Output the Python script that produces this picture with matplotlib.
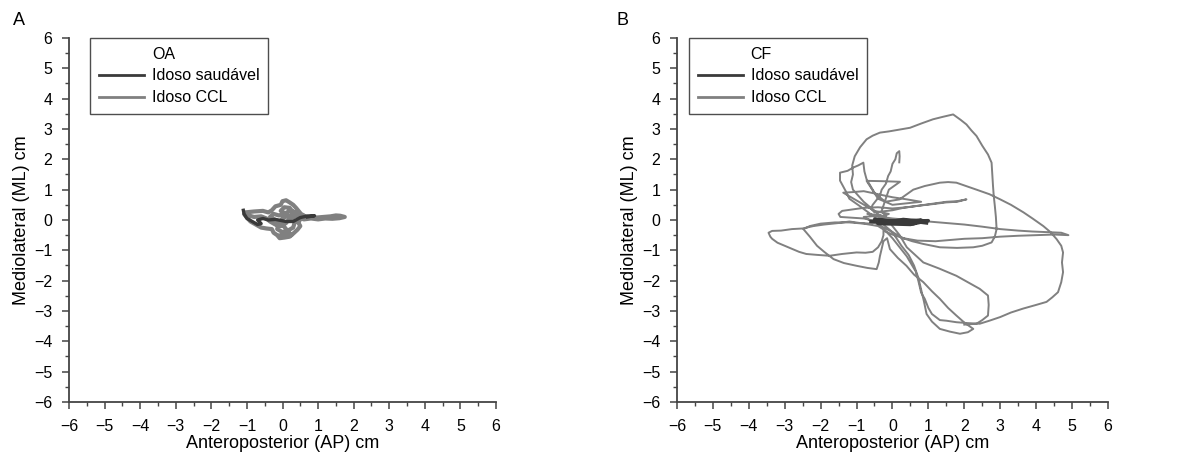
import matplotlib
matplotlib.use('Agg')
import matplotlib.pyplot as plt
from matplotlib.ticker import MultipleLocator
from matplotlib.lines import Line2D

plt.rcParams['font.family'] = ['Liberation Sans', 'DejaVu Sans']

# ------------------------------------------------------------
# data (cm): (AP, ML) pairs
# ------------------------------------------------------------
# Panel A - olhos abertos (OA)
ccl_a = [(-1.05, 0.25), (-0.8, 0.28), (-0.55, 0.3), (-0.4, 0.25), (-0.3, 0.32), (-0.2, 0.45),
         (-0.05, 0.5), (0.0, 0.62), (0.1, 0.65), (0.2, 0.58), (0.3, 0.5), (0.38, 0.4),
         (0.45, 0.3), (0.52, 0.2), (0.6, 0.15), (0.5, 0.05), (0.45, -0.1), (0.5, -0.2),
         (0.42, -0.32), (0.3, -0.45), (0.2, -0.55), (0.05, -0.58), (-0.08, -0.6), (-0.15, -0.5),
         (-0.25, -0.42), (-0.3, -0.3), (-0.45, -0.28), (-0.6, -0.25), (-0.75, -0.15),
         (-0.9, -0.05), (-1.0, 0.08), (-1.08, 0.2), (-0.95, 0.15), (-0.8, 0.1), (-0.6, 0.12),
         (-0.45, 0.05), (-0.35, -0.05), (-0.2, -0.15), (-0.05, -0.2), (0.1, -0.1), (0.2, 0.05),
         (0.1, 0.2), (-0.05, 0.3), (0.05, 0.42), (0.2, 0.4), (0.3, 0.25), (0.25, 0.1),
         (0.35, -0.05), (0.3, -0.25), (0.15, -0.35), (0.0, -0.4), (-0.15, -0.3), (-0.1, -0.1),
         (0.0, 0.05), (0.15, 0.15), (0.35, 0.12), (0.55, 0.12), (0.75, 0.12), (0.95, 0.08),
         (1.15, 0.1), (1.35, 0.12), (1.5, 0.15), (1.62, 0.14), (1.75, 0.1), (1.6, 0.06),
         (1.4, 0.04), (1.2, 0.05), (1.0, 0.02), (0.8, 0.05), (0.6, 0.02), (0.45, 0.08),
         (0.4, 0.25), (0.2, 0.3), (0.05, 0.2), (-0.1, 0.15), (-0.25, 0.2), (-0.35, 0.1),
         (-0.2, 0.0), (0.0, -0.15), (0.1, -0.3), (0.25, -0.5), (0.1, -0.45), (-0.05, -0.5)]
healthy_a = [(-1.1, 0.32), (-1.08, 0.2), (-1.0, 0.05), (-0.85, -0.05), (-0.7, -0.15),
             (-0.6, -0.12), (-0.7, 0.0), (-0.55, 0.05), (-0.4, 0.0), (-0.2, 0.02), (0.1, -0.05),
             (0.3, -0.05), (0.5, 0.08), (0.65, 0.12), (0.9, 0.14), (0.7, 0.1)]

# Panel B - CF
ccl_b = [
    # spike and central line
    (0.19, 1.9), (0.2, 2.1), (0.19, 2.27), (0.12, 2.2), (0.08, 2.0), (0.0, 1.85), (-0.05, 1.6),
    (-0.12, 1.45), (-0.18, 1.2), (-0.3, 1.0), (-0.35, 0.8), (-0.45, 0.65), (-0.55, 0.5),
    (-0.6, 0.38), (-0.5, 0.25), (-0.3, 0.28), (0.0, 0.32), (0.3, 0.4), (0.6, 0.45), (0.9, 0.5),
    (1.2, 0.55), (1.5, 0.6), (1.8, 0.62), (2.06, 0.68), (1.8, 0.6), (1.5, 0.58), (1.1, 0.52),
    (0.8, 0.48), (0.4, 0.42), (0.0, 0.38), (-0.4, 0.42), (-0.8, 0.4), (-1.1, 0.35), (-1.4, 0.3),
    (-1.5, 0.2), (-1.45, 0.1), (-1.2, 0.08), (-0.8, 0.05), (-0.6, 0.0), (-0.4, -0.05),
    # left loop
    (-0.6, -0.12), (-0.9, -0.1), (-1.2, -0.05), (-1.5, -0.1), (-1.9, -0.15), (-2.2, -0.2),
    (-2.5, -0.28), (-2.8, -0.3), (-3.1, -0.35), (-3.35, -0.36), (-3.45, -0.42), (-3.4, -0.55),
    (-3.35, -0.62), (-3.2, -0.75), (-3.0, -0.85), (-2.8, -0.95), (-2.6, -1.05), (-2.4, -1.12),
    (-2.1, -1.15), (-1.75, -1.18), (-1.4, -1.12), (-1.0, -1.07), (-0.75, -1.08), (-0.55, -1.05),
    (-0.4, -0.9), (-0.3, -0.7), (-0.25, -0.5), (-0.25, -0.35),
    # long line to the right
    (0.0, -0.48), (0.3, -0.6), (0.7, -0.68), (1.2, -0.7), (1.6, -0.66), (2.0, -0.62),
    (2.5, -0.6), (3.0, -0.55), (3.5, -0.52), (4.0, -0.5), (4.5, -0.48), (4.9, -0.5),
    (4.7, -0.42), (4.3, -0.4), (3.9, -0.38), (3.5, -0.35), (3.0, -0.3), (2.5, -0.22),
    (2.0, -0.15), (1.5, -0.1), (1.0, -0.05), (0.5, 0.0), (0.0, 0.05), (-0.3, 0.1),
    # top loop
    (-0.55, 0.35), (-0.8, 0.6), (-0.95, 0.8), (-1.1, 1.0), (-1.15, 1.25), (-1.1, 1.5),
    (-1.12, 1.8), (-1.05, 2.1), (-0.9, 2.4), (-0.72, 2.66), (-0.55, 2.78), (-0.35, 2.88),
    (-0.1, 2.92), (0.2, 2.98), (0.49, 3.04), (0.8, 3.18), (1.13, 3.32), (1.4, 3.4),
    (1.69, 3.48), (1.9, 3.3), (2.06, 3.15), (2.2, 2.95), (2.34, 2.77), (2.5, 2.45),
    (2.66, 2.16), (2.76, 1.89), (2.78, 1.5), (2.8, 1.12), (2.82, 0.8), (2.85, 0.47),
    (2.88, 0.1), (2.9, -0.3), (2.85, -0.55), (2.76, -0.74), (2.5, -0.85), (2.25, -0.9),
    (1.8, -0.92), (1.32, -0.9), (0.86, -0.79), (0.55, -0.7), (0.3, -0.6), (0.0, -0.4),
    (-0.2, -0.2),
    # upper-left tangle
    (-0.5, 0.1), (-0.9, 0.45), (-1.2, 0.7), (-1.3, 0.95), (-1.46, 1.3), (-1.46, 1.56),
    (-1.25, 1.62), (-1.09, 1.73), (-0.95, 1.8), (-0.81, 1.89), (-0.78, 1.6), (-0.72, 1.34),
    (-0.6, 1.1), (-0.5, 0.9), (-0.35, 0.75), (-0.2, 0.6),
    # second upper loop, around the right and bottom
    (0.2, 0.68), (0.4, 0.85), (0.58, 1.0), (0.9, 1.12), (1.32, 1.23), (1.55, 1.25),
    (1.78, 1.23), (2.05, 1.12), (2.34, 1.0), (2.7, 0.85), (3.0, 0.68), (3.3, 0.5),
    (3.65, 0.25), (3.9, 0.05), (4.2, -0.2), (4.4, -0.4), (4.57, -0.63), (4.7, -0.85),
    (4.75, -1.07), (4.72, -1.4), (4.75, -1.72), (4.7, -2.05), (4.61, -2.38), (4.45, -2.55),
    (4.29, -2.7), (4.0, -2.8), (3.64, -2.92), (3.3, -3.05), (3.0, -3.2), (2.7, -3.32),
    (2.43, -3.42), (2.1, -3.4), (1.78, -3.37), (1.5, -3.32), (1.32, -3.3), (1.1, -3.1),
    (1.0, -2.9), (0.9, -2.6), (0.8, -2.4), (0.72, -2.0), (0.65, -1.7), (0.5, -1.4),
    (0.4, -1.2), (0.2, -0.9), (0.0, -0.6), (-0.2, -0.35), (-0.4, -0.2),
    # second left loop
    (-0.8, -0.12), (-1.2, -0.08), (-1.6, -0.08), (-2.0, -0.12), (-2.3, -0.2), (-2.48, -0.3),
    (-2.3, -0.55), (-2.1, -0.85), (-1.9, -1.05), (-1.64, -1.29), (-1.35, -1.42), (-1.0, -1.51),
    (-0.7, -1.58), (-0.44, -1.62), (-0.38, -1.4), (-0.35, -1.2), (-0.3, -0.95), (-0.25, -0.7),
    (-0.15, -0.6),
    # lower loop
    (-0.07, -0.96), (0.15, -1.25), (0.39, -1.51), (0.6, -1.8), (0.86, -2.05), (1.1, -2.35),
    (1.32, -2.6), (1.55, -2.9), (1.78, -3.15), (2.0, -3.38), (2.25, -3.59), (2.1, -3.7),
    (1.88, -3.75), (1.6, -3.68), (1.32, -3.59), (1.1, -3.35), (0.95, -3.1), (0.88, -2.7),
    (0.8, -2.3), (0.72, -1.9), (0.6, -1.5), (0.45, -1.15), (0.25, -0.85), (0.0, -0.4),
    # central tangle
    (-0.8, 0.1), (-0.3, 0.15), (-0.7, 0.2), (-0.2, 0.05), (-0.6, -0.05), (-0.1, 0.2),
    (-0.5, 0.3), (-1.37, 0.9), (-1.1, 0.92), (-0.8, 0.95), (-0.4, 0.85), (0.0, 0.75),
    (0.4, 0.68), (0.8, 0.6), (0.4, 0.55), (0.0, 0.5), (-0.4, 0.7), (-0.72, 1.29),
    (-0.3, 1.28), (0.21, 1.26), (-0.1, 1.0), (-0.3, 0.3), (0.0, -0.2), (0.2, -0.5),
    (0.4, -0.9),
    # last loop to the lower right
    (0.86, -1.4), (1.3, -1.6), (1.78, -1.84), (2.1, -2.05), (2.43, -2.27), (2.66, -2.49),
    (2.68, -2.8), (2.66, -3.15), (2.5, -3.3), (2.34, -3.42), (2.0, -3.45),
]
healthy_b = [(-0.6, -0.05), (0.2, -0.1), (0.9, -0.05), (0.3, 0.02), (-0.4, -0.12), (0.5, -0.15),
             (1.0, -0.02), (0.1, -0.05), (-0.5, 0.02), (0.6, -0.12), (0.8, 0.0), (-0.2, -0.08),
             (0.4, -0.02), (0.95, -0.1)]

panels = [
    ('A', 'OA', ccl_a, healthy_a, 3.0, 0.05),
    ('B', 'CF', ccl_b, healthy_b, 1.4, 0.028),
]
ccl_color = '#808080'
healthy_color = '#3a3a3a'

fig = plt.figure(figsize=(11.87, 4.61), dpi=100)
axes_pos = [[0.0581, 0.128, 0.3598, 0.7896], [0.5703, 0.128, 0.3631, 0.7896]]
letter_x = [0.011, 0.519]

for i, (letter, title, ccl, healthy, lw, leg_x) in enumerate(panels):
    ax = fig.add_axes(axes_pos[i])
    ax.plot([p[0] for p in ccl], [p[1] for p in ccl], color=ccl_color, linewidth=lw)
    ax.plot([p[0] for p in healthy], [p[1] for p in healthy], color=healthy_color, linewidth=2.4)
    ax.set_xlim(-6, 6)
    ax.set_ylim(-6, 6)
    ax.xaxis.set_major_locator(MultipleLocator(1))
    ax.yaxis.set_major_locator(MultipleLocator(1))
    ax.xaxis.set_minor_locator(MultipleLocator(0.5))
    ax.yaxis.set_minor_locator(MultipleLocator(0.5))
    ax.spines['top'].set_visible(False)
    ax.spines['right'].set_visible(False)
    for s in ['left', 'bottom']:
        ax.spines[s].set_color('#444444')
        ax.spines[s].set_linewidth(1.3)
    ax.tick_params(which='major', direction='out', length=5, width=1.1, color='#444444',
                   labelsize=11.5)
    ax.tick_params(axis='x', which='major', pad=7)
    ax.tick_params(axis='y', which='major', pad=7)
    ax.tick_params(which='minor', direction='out', length=3, width=1.0, color='#444444')
    ax.set_xticklabels([f'{int(t)}'.replace('-', '\u2212') for t in ax.get_xticks()])
    ax.set_yticklabels([f'{int(t)}'.replace('-', '\u2212') for t in ax.get_yticks()])
    ax.set_xlabel('Anteroposterior (AP) cm', fontsize=13, labelpad=1)
    ax.set_ylabel('Mediolateral (ML) cm', fontsize=13, labelpad=3)

    handles = [Line2D([], [], color='none'),
               Line2D([], [], color=healthy_color, linewidth=2),
               Line2D([], [], color=ccl_color, linewidth=2)]
    leg = ax.legend(handles, [title, 'Idoso saudável', 'Idoso CCL'], loc='upper left',
                    bbox_to_anchor=(leg_x, 1.0), borderaxespad=0, fontsize=11.5,
                    handlelength=2.8, handletextpad=0.5, labelspacing=0.42,
                    fancybox=False, edgecolor='#222222', borderpad=0.55)
    leg.get_frame().set_linewidth(1.0)

    fig.text(letter_x[i], 0.975, letter, fontsize=13, va='top', ha='left')

fig.savefig('out.png', dpi=100)
